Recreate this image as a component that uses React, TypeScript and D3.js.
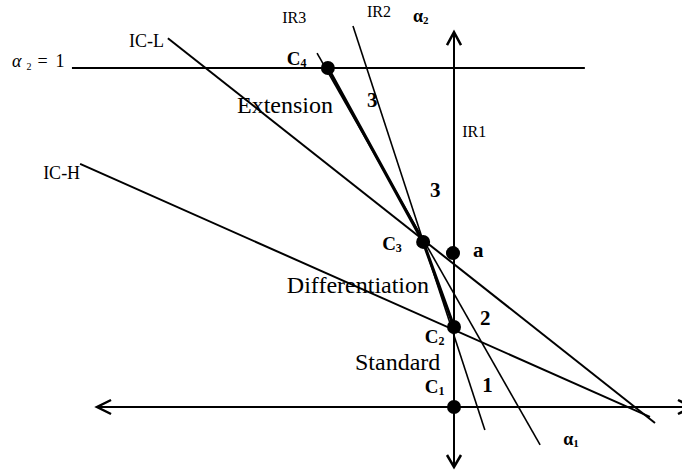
import React from 'react';
import * as d3 from 'd3';

const W = 682;
const H = 472;

// Data coordinates: α1 horizontal, α2 vertical (α2 = 1 is the ceiling line)
const pointNames = ['C1', 'C2', 'C3', 'a', 'C4'];
const pointA1 = [0, 0, -0.091, -0.003, -0.372];
const pointA2 = [0, 0.236, 0.487, 0.454, 1];

const curveNames = ['IC-L', 'IC-H'];
const curveFrom = [[-0.844, 1.088], [-1.103, 0.717]];
const curveTo = [[0.593, -0.047], [0.578, -0.029]];

const rayNames = ['IR3', 'IR2'];
const rayFrom = [[-0.404, 1.044], [-0.298, 1.124]];
const rayTo = [[0.254, -0.112], [0.091, -0.068]];

const pathSequence = ['C4', 'C3', 'C2'];

const ceilingA2 = 1;
const ceilingExtent = [-1.127, 0.386];
const xAxisExtent = [-1.053, 0.702];
const yAxisExtent = [-0.177, 1.106];

// labels: [text, subscript, α1, α2, kind]
const labels: [string, string, number, number, string][] = [
  ['IC-L', '', -0.959, 1.062, 'name'],
  ['IC-H', '', -1.212, 0.673, 'name'],
  ['IR3', '', -0.507, 1.133, 'small'],
  ['IR2', '', -0.257, 1.15, 'small'],
  ['IR1', '', 0.024, 0.796, 'small'],
  ['α', '2', -0.121, 1.136, 'axis'],
  ['α', '1', 0.322, -0.112, 'axis'],
  ['C', '4', -0.493, 1.009, 'point'],
  ['C', '3', -0.212, 0.463, 'point'],
  ['C', '2', -0.086, 0.189, 'point'],
  ['C', '1', -0.086, 0.041, 'point'],
  ['a', '', 0.056, 0.442, 'num'],
  ['3', '', -0.257, 0.885, 'num'],
  ['3', '', -0.071, 0.619, 'num'],
  ['2', '', 0.077, 0.242, 'num'],
  ['1', '', 0.083, 0.044, 'num'],
  ['Extension', '', -0.64, 0.867, 'region'],
  ['Differentiation', '', -0.493, 0.336, 'region'],
  ['Standard', '', -0.292, 0.109, 'region'],
];
const ceilingLabel: [number, number] = [-1.304, 1.003];

const FONT = '"Liberation Serif", "Times New Roman", serif';

const kindStyle: Record<string, { size: number; weight: string; sub: number }> = {
  name: { size: 18, weight: 'normal', sub: 12 },
  small: { size: 16, weight: 'normal', sub: 11 },
  axis: { size: 18, weight: 'bold', sub: 11 },
  point: { size: 19, weight: 'bold', sub: 12 },
  num: { size: 21, weight: 'bold', sub: 12 },
  region: { size: 24, weight: 'normal', sub: 14 },
};

export default function App() {
  const x = d3.scaleLinear().domain([0, 1]).range([454, 793]);
  const y = d3.scaleLinear().domain([0, 1]).range([407, 68]);
  const line = d3.line<number[]>().x((d) => x(d[0])).y((d) => y(d[1]));

  const pt = (n: string) => {
    const i = pointNames.indexOf(n);
    return [pointA1[i], pointA2[i]];
  };

  const x0 = x(0);
  const y0 = y(0);

  return (
    <svg width={W} height={H} style={{ position: 'absolute', left: 0, top: 0, background: '#fff' }}>
      <rect width={W} height={H} fill="#fff" />
      {/* axes */}
      <g stroke="#000" fill="none" strokeWidth={2}>
        <path d={line([[xAxisExtent[0], 0], [xAxisExtent[1], 0]]) || ''} />
        <path d={line([[0, yAxisExtent[0]], [0, yAxisExtent[1]]]) || ''} />
        {/* arrowheads */}
        <path d={`M${x(xAxisExtent[0]) + 14},${y0 - 7}L${x(xAxisExtent[0])},${y0}L${x(xAxisExtent[0]) + 14},${y0 + 7}`} strokeWidth={2.5} />
        <path d={`M${x(xAxisExtent[1]) - 14},${y0 - 7}L${x(xAxisExtent[1])},${y0}L${x(xAxisExtent[1]) - 14},${y0 + 7}`} strokeWidth={2.5} />
        <path d={`M${x0 - 7},${y(yAxisExtent[1]) + 13}L${x0},${y(yAxisExtent[1])}L${x0 + 7},${y(yAxisExtent[1]) + 13}`} strokeWidth={2.5} />
        <path d={`M${x0 - 7},${y(yAxisExtent[0]) - 12}L${x0},${y(yAxisExtent[0])}L${x0 + 7},${y(yAxisExtent[0]) - 12}`} strokeWidth={2.5} />
        {/* ceiling α2 = 1 */}
        <path d={line([[ceilingExtent[0], ceilingA2], [ceilingExtent[1], ceilingA2]]) || ''} />
      </g>
      {/* iso-cost curves */}
      <g stroke="#000" fill="none" strokeWidth={2}>
        {curveNames.map((n, i) => (
          <path key={n} d={line([curveFrom[i], curveTo[i]]) || ''} />
        ))}
      </g>
      {/* iso-revenue rays */}
      <g stroke="#000" fill="none" strokeWidth={1.6}>
        {rayNames.map((n, i) => (
          <path key={n} d={line([rayFrom[i], rayTo[i]]) || ''} />
        ))}
      </g>
      {/* thick path */}
      <path d={line(pathSequence.map(pt)) || ''} stroke="#000" strokeWidth={3.2} fill="none" />
      {/* points */}
      {pointNames.map((n, i) => (
        <circle key={n} cx={x(pointA1[i])} cy={y(pointA2[i])} r={7} fill="#000" />
      ))}
      {/* labels */}
      <g fontFamily={FONT} fill="#000">
        {labels.map(([t, sub, a1, a2, kind], i) => {
          const s = kindStyle[kind];
          return (
            <text key={i} x={x(a1)} y={y(a2)} fontSize={s.size} fontWeight={s.weight}>
              {t}
              {sub && (
                <tspan fontSize={s.sub} dy={2}>
                  {sub}
                </tspan>
              )}
            </text>
          );
        })}
        <text x={x(ceilingLabel[0])} y={y(ceilingLabel[1])} fontSize={18}>
          <tspan fontStyle="italic">α</tspan>
          <tspan fontSize={10} dx={5} dy={3}>2</tspan>
          <tspan dx={6} dy={-3}>=</tspan>
          <tspan dx={8}>1</tspan>
        </text>
      </g>
    </svg>
  );
}
